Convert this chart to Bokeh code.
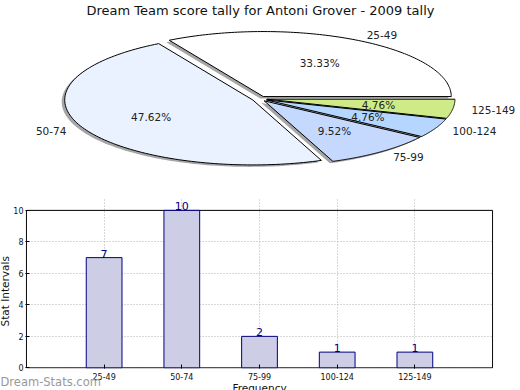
import numpy as np
from bokeh.plotting import figure
from bokeh.models import (Range1d, Label, LabelSet, ColumnDataSource, FixedTicker, Title)
from bokeh.core.properties import value
from bokeh.embed import file_html
from bokeh.resources import INLINE

# ---------------- data ----------------
categories = ["25-49", "50-74", "75-99", "100-124", "125-149"]
counts = [7, 10, 2, 1, 1]
pie_colors = ["#ffffff", "#ebf2ff", "#c5d9ff", "#b4d6ff", "#cfeb88"]
y_ticks = [0, 2, 4, 6, 8, 10]
title_text = "Dream Team score tally for Antoni Grover - 2009 tally"
x_label = "Frequency"
y_label = "Stat Intervals"
watermark = "Dream-Stats.com"

FONT = "DejaVu Sans"
W = 520
PIE_H = 195
BAR_H = 195

# ---------------- pie ----------------
CX, CY = 259.0, 98.3      # pie centre within canvas (px)
RX, RY = 188.0, 65.0      # ellipse radii (px)
EXPLODE = 0.04

pie = figure(width=W, height=PIE_H, output_backend="svg", toolbar_location=None,
             x_range=Range1d(-CX / RX, (W - CX) / RX),
             y_range=Range1d(-(PIE_H - CY) / RY, CY / RY),
             x_axis_type=None, y_axis_type=None, min_border=0)
pie.grid.visible = False
pie.outline_line_color = None

total = float(sum(counts))
fracs = [c / total for c in counts]
xs, ys, sxs, sys_ = [], [], [], []
lab_x, lab_y, lab_align, pct_x, pct_y, pct_txt = [], [], [], [], [], []
start = 0.0
for f in fracs:
    t0, t1 = start, start + 2 * np.pi * f
    mid = 0.5 * (t0 + t1)
    dx, dy = EXPLODE * np.cos(mid), EXPLODE * np.sin(mid)
    ts = np.linspace(t0, t1, 120)
    px = [dx] + list(dx + np.cos(ts))
    py = [dy] + list(dy + np.sin(ts))
    xs.append(px); ys.append(py)
    sxs.append([v - 0.016 for v in px]); sys_.append([v - 0.03 for v in py])
    lab_x.append(dx + 1.1 * np.cos(mid)); lab_y.append(dy + 1.1 * np.sin(mid))
    lab_align.append("left" if np.cos(mid) > 0 else "right")
    pct_x.append(dx + 0.6 * np.cos(mid)); pct_y.append(dy + 0.6 * np.sin(mid))
    pct_txt.append("%.2f%%" % (100 * f))
    start = t1

pie.patches(sxs, sys_, fill_color="#4d4d4d", fill_alpha=0.5, line_color=None)
pie.patches(xs, ys, fill_color=pie_colors, line_color="black", line_width=1)

lab_src = ColumnDataSource(dict(x=lab_x, y=lab_y, t=categories, a=lab_align))
pie.text(x="x", y="y", text="t", text_align="a", text_baseline="middle",
         source=lab_src, text_font=value(FONT), text_font_size="10.5px",
         text_color="#222222")
pct_src = ColumnDataSource(dict(x=pct_x, y=pct_y, t=pct_txt))
pie.text(x="x", y="y", text="t", text_align="center", text_baseline="middle",
         source=pct_src, text_font=value(FONT), text_font_size="10.5px",
         text_color="#222222")

pie.add_layout(Label(x=260, y=PIE_H - 2, x_units="screen", y_units="screen",
                     text=title_text, text_align="center", text_baseline="top",
                     text_font=FONT, text_font_size="13px", text_color="#111111"))

# ---------------- bar chart ----------------
FRAME_TOP, TEN_TOP, FRAME_BOT = 197.0, 210.0, 369.0   # canvas px (layout)
X0, X1 = 0, len(categories) + 1
Y_TOP = max(y_ticks)
y_end = Y_TOP * (FRAME_BOT - FRAME_TOP) / (FRAME_BOT - TEN_TOP)
positions = list(range(1, len(categories) + 1))

bar = figure(width=W, height=BAR_H, output_backend="svg", toolbar_location=None,
             x_range=Range1d(X0 - 0.012, X1 + 0.012),
             y_range=Range1d(-0.04, y_end),
             min_border_left=25, min_border_right=27,
             min_border_top=int(FRAME_TOP - PIE_H), min_border_bottom=21)
bar.outline_line_color = None

# grid
bar.xgrid.bounds = (0, Y_TOP)
for g in (bar.xgrid, bar.ygrid):
    g.grid_line_color = "#b0b0b0"
    g.grid_line_dash = "1 2"
    g.grid_line_width = 1

# plot box (axes frame from 0 to the top tick)
bar.quad(left=[X0], right=[X1], bottom=[0], top=[Y_TOP],
         fill_color=None, line_color="black", line_width=1)

bsrc = ColumnDataSource(dict(pos=positions, cnt=counts, lbl=[str(c) for c in counts]))
bar.vbar(x="pos", top="cnt", width=0.46, source=bsrc,
         fill_color="#cdcde6", line_color="#000080", line_width=1)

bar.xaxis.ticker = FixedTicker(ticks=positions)
bar.xaxis.major_label_overrides = {p: c for p, c in zip(positions, categories)}
bar.yaxis.ticker = FixedTicker(ticks=y_ticks)
for ax in (bar.xaxis, bar.yaxis):
    ax.axis_line_color = None
    ax.major_tick_in = 4
    ax.major_tick_out = 0
    ax.minor_tick_line_color = None
    ax.major_tick_line_color = "black"
    ax.major_label_text_font = FONT
    ax.major_label_text_font_size = "8px"
    ax.major_label_text_color = "#111111"
bar.xaxis.major_label_standoff = 4
bar.yaxis.major_label_standoff = 2

bar.add_layout(LabelSet(x="pos", y="cnt", text="lbl", source=bsrc,
                        text_align="center", text_baseline="alphabetic",
                        text_font=value(FONT), text_font_size="11px",
                        text_color="#000080"))

# y label (left of the tick labels)
bar.add_layout(Title(text=y_label, align="left", offset=42, vertical_align="top",
                     standoff=-5, text_font=FONT, text_font_size="10.5px",
                     text_font_style="normal", text_color="#111111"), "left")
# watermark (overlapping the bottom-left corner)
bar.add_layout(Title(text=watermark, align="left", offset=-25, vertical_align="top",
                     standoff=-15, text_font=FONT, text_font_size="11.5px",
                     text_font_style="normal", text_color="#999999"), "below")
# x label (cut off by the bottom edge like the reference)
bar.add_layout(Title(text=x_label, align="center", vertical_align="bottom",
                     standoff=-7, text_font=FONT, text_font_size="10.5px",
                     text_font_style="normal", text_color="#111111"), "below")

open("out.html", "w").write(file_html([pie, bar], INLINE))
